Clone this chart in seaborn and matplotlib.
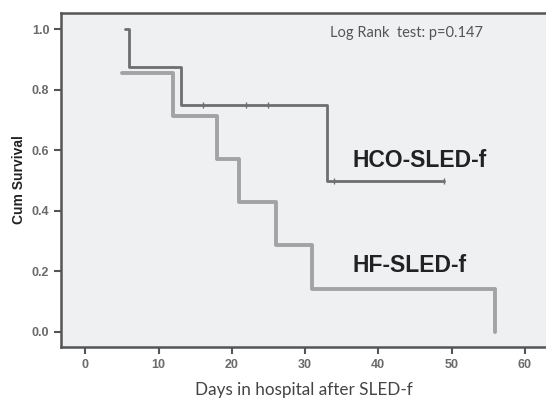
import matplotlib
matplotlib.use("Agg")
import matplotlib.pyplot as plt
import numpy as np
import pandas as pd
import seaborn as sns

# step points
hco_time = [5.4, 6, 13, 33, 49]
hco_surv = [1.0, 0.875, 0.75, 0.5, 0.5]
hco_cens_time = [16, 22, 25, 34, 49]
hco_cens_surv = [0.75, 0.75, 0.75, 0.5, 0.5]

hf_time = [5, 12, 18, 21, 26, 31, 56]
hf_surv = [0.857, 0.714, 0.571, 0.429, 0.286, 0.143, 0.0]

x_ticks = [0, 10, 20, 30, 40, 50, 60]
y_ticks = [0.0, 0.2, 0.4, 0.6, 0.8, 1.0]

sns.set_style("ticks")
plt.rcParams["font.family"] = ["Liberation Sans", "DejaVu Sans"]

fig = plt.figure(figsize=(5.46, 4.0), dpi=100)
ax = fig.add_axes([0.112, 0.1325, 0.888, 0.835])
ax.set_facecolor("#eff0f2")

hco = pd.DataFrame({"time": hco_time, "surv": hco_surv})
hf = pd.DataFrame({"time": hf_time, "surv": hf_surv})
cens = pd.DataFrame({"time": hco_cens_time, "surv": hco_cens_surv})

sns.lineplot(data=hf, x="time", y="surv", ax=ax, estimator=None, sort=False,
             drawstyle="steps-post", color="#a3a3a3", linewidth=2.8)
sns.lineplot(data=hco, x="time", y="surv", ax=ax, estimator=None, sort=False,
             drawstyle="steps-post", color="#6e6e6e", linewidth=2.0)
sns.scatterplot(data=cens, x="time", y="surv", ax=ax, marker="|", s=25,
                color="#6e6e6e", linewidth=1.0)

ax.set_xlim(-3.3, 62.9)
ax.set_ylim(-0.05, 1.054)
ax.set_xticks(x_ticks)
ax.set_yticks(y_ticks)
ax.set_yticklabels([f"{v:.1f}" for v in y_ticks])
ax.tick_params(axis="both", labelsize=9, labelcolor="#6a6a6a", color="#555555",
               length=5, width=1.5)
for lbl in ax.get_xticklabels() + ax.get_yticklabels():
    lbl.set_fontweight("bold")

for side in ["left", "bottom", "top"]:
    ax.spines[side].set_color("#555555")
    ax.spines[side].set_linewidth(1.8)
ax.spines["right"].set_visible(False)

ax.set_xlabel("Days in hospital after SLED-f", fontsize=12.3, color="#444444",
              family=["Lato", "DejaVu Sans"], labelpad=8)
ax.set_ylabel("Cum Survival", fontsize=10, fontweight="bold", color="#222222",
              labelpad=4)

ax.text(0.555, 0.94, "Log Rank  test: p=0.147", transform=ax.transAxes,
        fontsize=10.5, color="#555555", family=["Lato", "DejaVu Sans"],
        va="center")
ax.text(36.5, 0.565, "HCO-SLED-f", fontsize=16.5, fontweight="bold",
        color="#222222", va="center")
ax.text(36.5, 0.22, "HF-SLED-f", fontsize=16.5, fontweight="bold",
        color="#222222", va="center")

fig.savefig("out.png", dpi=100)
